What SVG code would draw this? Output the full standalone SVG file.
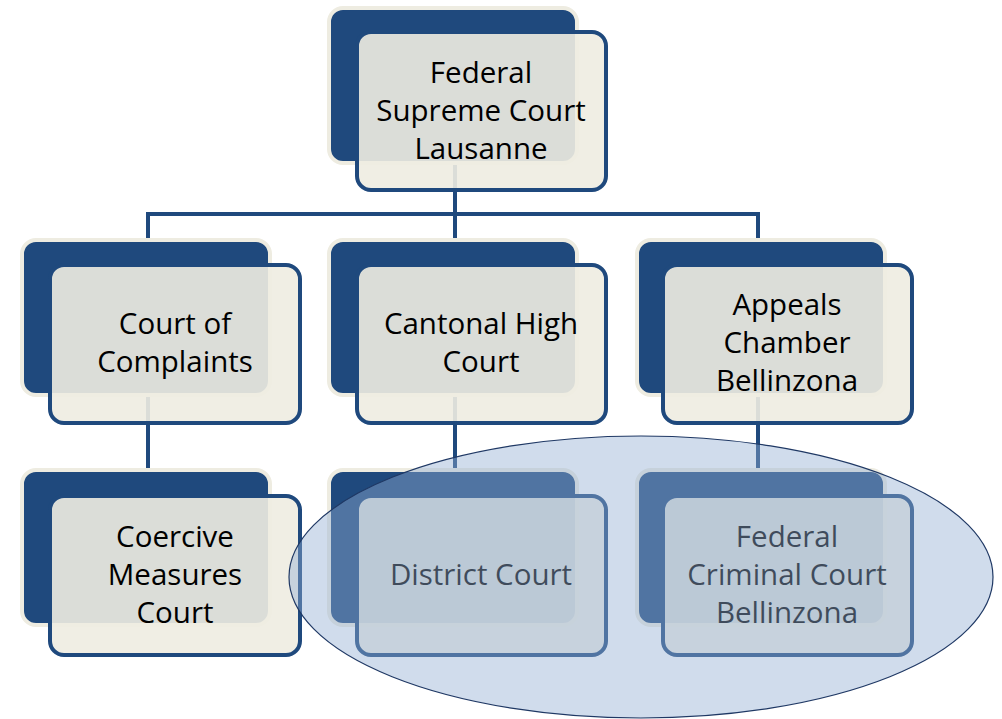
<svg xmlns="http://www.w3.org/2000/svg" width="1002" height="719" viewBox="0 0 1002 719">
<style>
.back{fill:#1F497D;stroke:#EEECE1;stroke-width:4}
.front{fill:#EEECE1;fill-opacity:0.91;stroke:#1F497D;stroke-width:4}
.conn{stroke:#1F497D;stroke-width:4;fill:none}
text{font-family:"Open Sans","Liberation Sans",sans-serif;font-size:29.5px;fill:#000;text-anchor:middle}
</style>
<rect width="1002" height="719" fill="#ffffff"/>
<g id="connectors">
<path class="conn" d="M455,165 V214 M148,214 H758 M148,212 V241 M455,214 V241 M758,212 V241 M148,396 V471 M455,396 V471 M758,396 V471"/>
</g>
<g id="node-supreme">
<rect class="back" x="329" y="8" width="248" height="155" rx="14"/>
<rect class="front" x="357" y="32" width="249" height="158" rx="14"/>
<text x="481" y="83">Federal</text>
<text x="481" y="121">Supreme Court</text>
<text x="481" y="159">Lausanne</text>
</g>
<g id="node-complaints">
<rect class="back" x="22" y="240" width="248" height="155" rx="14"/>
<rect class="front" x="50" y="265" width="250" height="158" rx="14"/>
<text x="175" y="334">Court of</text>
<text x="175" y="372">Complaints</text>
</g>
<g id="node-cantonal">
<rect class="back" x="329" y="240" width="248" height="155" rx="14"/>
<rect class="front" x="357" y="265" width="249" height="158" rx="14"/>
<text x="481" y="334">Cantonal High</text>
<text x="481" y="372">Court</text>
</g>
<g id="node-appeals">
<rect class="back" x="637" y="240" width="248" height="155" rx="14"/>
<rect class="front" x="663" y="265" width="249" height="158" rx="14"/>
<text x="787" y="315">Appeals</text>
<text x="787" y="353">Chamber</text>
<text x="787" y="391">Bellinzona</text>
</g>
<g id="node-coercive">
<rect class="back" x="22" y="470" width="248" height="155" rx="14"/>
<rect class="front" x="50" y="496" width="250" height="159" rx="14"/>
<text x="175" y="547">Coercive</text>
<text x="175" y="585">Measures</text>
<text x="175" y="623">Court</text>
</g>
<g id="node-district">
<rect class="back" x="329" y="470" width="248" height="155" rx="14"/>
<rect class="front" x="357" y="496" width="249" height="159" rx="14"/>
<text x="481" y="585">District Court</text>
</g>
<g id="node-criminal">
<rect class="back" x="637" y="470" width="248" height="155" rx="14"/>
<rect class="front" x="663" y="496" width="249" height="159" rx="14"/>
<text x="787" y="547">Federal</text>
<text x="787" y="585">Criminal Court</text>
<text x="787" y="623">Bellinzona</text>
</g>
<g id="highlight">
<ellipse cx="641" cy="577" rx="352" ry="141" fill="#91AFD2" fill-opacity="0.43" stroke="#1F3864" stroke-width="1.2"/>
</g>
</svg>
